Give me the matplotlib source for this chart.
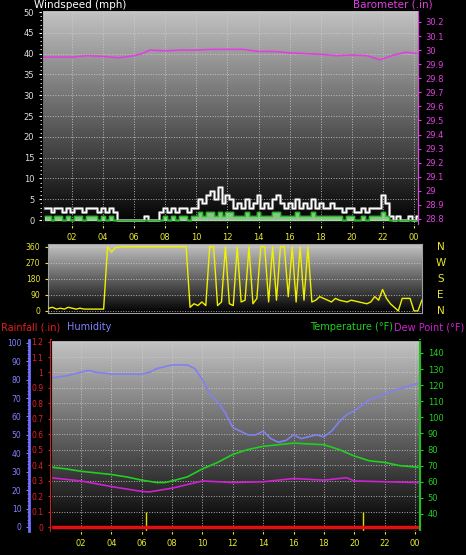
import numpy as np
import matplotlib
matplotlib.use("Agg")
import matplotlib.pyplot as plt
from matplotlib.colors import LinearSegmentedColormap

# ---------------- data ----------------
baro_t = [0.1, 1, 2, 3, 4, 5, 6, 6.5, 7, 8, 9, 10, 11, 12, 13, 14, 15, 16, 17, 18, 19, 20, 21, 21.8, 22.7, 23.5, 24.2]
baro_v = [29.95, 29.95, 29.95, 29.96, 29.955, 29.945, 29.96, 29.975, 30.0, 29.995, 30.0, 30.0, 30.005, 30.005,
          30.005, 29.99, 29.99, 29.98, 29.975, 29.97, 29.96, 29.965, 29.96, 29.93, 29.965, 29.985, 29.975]

wind_t = [0.25 * i for i in range(1, 98)]
gust = [3,3,2,3,3,2,3,2,3,3,2,3,3,3,2,3,2,3,2,0,
        0,0,0,0,0,0,1,0,0,0,
        2,3,2,3,2,3,3,2,3,3,
        5,4,6,7,5,8,4,6,
        5,3,4,3,5,3,4,6,
        3,4,3,5,6,4,3,4,
        3,5,3,4,3,5,3,4,
        3,3,4,3,3,2,3,3,
        2,2,3,2,3,3,3,6,
        4,1,0,1,0,0,1,0,1]
avg = [1,1,0,1,1,0,1,0,1,1,0,1,1,1,0,1,0,1,0,0,
       0,0,0,0,0,0,0,0,0,0,
       0,1,0,1,0,1,1,0,1,1,
       2,1,2,2,1,2,1,2,
       2,1,1,1,2,1,1,2,
       1,1,1,2,2,1,1,1,
       1,2,1,1,1,2,1,1,
       1,1,1,1,1,0,1,1,
       0,0,1,0,1,1,1,2,
       1,0,0,0,0,0,0,0,0]
direction = [10,15,20,10,15,10,20,15,10,15,10,10,10,10,10,10,
             360,330,355,358] + [360] * 17 + \
            [20,40,30,50,30,
             360,360,30,50,360,40,30,360,50,60,360,40,70,360,360,50,360,60,360,360,80,360,50,360,60,360,
             50,60,80,70,60,50,70,60,55,50,60,55,50,45,40,50,
             80,60,120,70,40,
             20,0,70,70,70,0,0,60]

hum_t = [0.1,1,2,2.5,3,4,5,6,6.5,7,8,9,9.5,10,10.5,11,11.5,12,12.5,13,13.5,14,14.5,15,15.5,16,16.5,17,17.5,18,
         18.5,19,19.5,20,20.5,21,22,22.5,23,24.2]
hum_v = [81,82,84,85,84,83,83,83,84,86,88,88,86,80,72,68,62,54,52,50,50,52,48,46,47,50,48,49,50,49,
         52,57,61,63,66,69,72,74,75,78]
temp_t = [0.1,1,2,3,4,5,6,7,7.5,8,9,10,11,12,13,14,15,16,17,18,19,20,21,22,23,24.2]
temp_v = [69,68,66.5,65.5,64.5,63,61,59.5,59.5,60.5,63,68,72,77,80,82,83,84,83.5,83,80,76,73,72,70,69]
dew_t = [0.1,2,4,6,6.5,8,10,12,14,16,18,19.5,20,22,24.2]
dew_v = [62.4,60.5,57,54,53.7,56,60.5,59.5,60,62,61,62.5,60.5,60,59.5]
rain_t = [0.1, 24.2]
rain_v = [0.0, 0.0]
rate_t = [6.3, 20.6]
rate_v = [0.1, 0.1]

hour_ticks = list(range(2, 25, 2))
hour_labels = ["02","04","06","08","10","12","14","16","18","20","22","00"]

# ---------------- styling ----------------
BG = "black"
YEL = "#e8e830"
grad = LinearSegmentedColormap.from_list("g", ["#000000", "#c4c4c4"])

fig = plt.figure(figsize=(4.66, 5.55), dpi=100, facecolor=BG)

def style(ax):
    ax.set_facecolor("black")
    ax.imshow(np.linspace(0, 1, 256).reshape(-1, 1)[::-1], cmap=grad, extent=[0, 1, 0, 1],
              transform=ax.transAxes, aspect="auto", zorder=0)
    for s in ax.spines.values():
        s.set_color("#a0a0a0")
    ax.grid(True, color="#d0d0d0", linestyle=":", linewidth=0.7, alpha=0.8)
    ax.tick_params(labelsize=6)

# ---- top: wind + barometer ----
ax1 = fig.add_axes([0.0901, 0.5946, 0.8069, 0.3874])
style(ax1)
ax1.set_xlim(0.07, 24.26)
ax1.set_ylim(-1.2, 50.5)
ax1.set_yticks(range(0, 51, 5))
ax1.set_yticks(range(0, 51, 1), minor=True)
ax1.set_xticks(hour_ticks)
ax1.set_xticklabels(hour_labels)
ax1.tick_params(axis="y", colors="white", labelcolor="#e0e0e0", length=2)
ax1.tick_params(axis="y", which="minor", colors="white", length=1.5)
ax1.tick_params(axis="x", colors=YEL, labelcolor=YEL, length=2)
ax1.fill_between(wind_t, avg, step="mid", color="#b0f0b0", alpha=0.8, zorder=2)
ax1.step(wind_t, gust, where="mid", color="#808080", lw=2.2, zorder=3)
ax1.step(wind_t, gust, where="mid", color="white", lw=1.0, zorder=4)
ax1.step(wind_t, avg, where="mid", color="#20c020", lw=1.0, zorder=5)
ax1.text(-0.02, 1.0, "Windspeed (mph)", transform=ax1.transAxes, color="white", fontsize=7.5,
         ha="left", va="bottom")
ax1b = ax1.twinx()
ax1b.set_ylim(28.757, 30.285)
ax1b.set_yticks(np.round(np.arange(28.8, 30.21, 0.1), 1))
ax1b.set_yticklabels([f"{v:g}" for v in np.round(np.arange(28.8, 30.21, 0.1), 1)])
ax1b.tick_params(axis="y", colors="#e040e0", labelcolor="#e040e0", labelsize=6, length=2)
ax1b.spines["right"].set_color("#e040e0")
ax1b.plot(baro_t, baro_v, color="#e040e0", lw=1.2)
ax1b.text(1.04, 1.0, "Barometer (.in)", transform=ax1b.transAxes, color="#e040e0", fontsize=7.5,
          ha="right", va="bottom")

# ---- wind direction ----
ax2 = fig.add_axes([0.103, 0.436, 0.8026, 0.1243])
style(ax2)
ax2.grid(False)
ax2.grid(True, axis="y", color="#d0d0d0", linestyle=":", linewidth=0.7)
ax2.set_xlim(0.46, 24.26)
ax2.set_ylim(-12, 375)
ax2.set_yticks([0, 90, 180, 270, 360])
ax2.set_xticks([])
ax2.tick_params(axis="y", colors=YEL, labelcolor=YEL, length=2, labelsize=5.5)
ax2.plot(wind_t, direction, color="#f0f000", lw=1.0, zorder=3)
for lbl, v in zip(["N", "W", "S", "E", "N"], [360, 270, 180, 90, 0]):
    ax2.text(1.05, (v + 12) / 387, lbl, transform=ax2.transAxes, color=YEL, fontsize=7.5,
             ha="center", va="center")

# ---- bottom: rain / humidity / temperature ----
ax3 = fig.add_axes([0.1094, 0.0432, 0.7918, 0.3441])
style(ax3)
ax3.set_xlim(0.02, 24.33)
ax3.set_ylim(-0.026, 1.21)
ax3.set_yticks(np.round(np.arange(0, 1.21, 0.1), 1))
ax3.set_yticklabels([f"{v:g}" for v in np.round(np.arange(0, 1.21, 0.1), 1)])
ax3.set_xticks(hour_ticks)
ax3.set_xticklabels(hour_labels)
ax3.tick_params(axis="y", colors="#e02020", labelcolor="#e02020", length=2, labelsize=5.5)
ax3.tick_params(axis="x", colors=YEL, labelcolor=YEL, length=2)
ax3.spines["left"].set_color("#e02020")
ax3.spines["left"].set_linewidth(1.5)
ax3.plot(rain_t, rain_v, color="#e01010", lw=2.5, zorder=6)
ax3.vlines(rate_t, -0.026, rate_v, color="#e0e000", lw=1.0, zorder=5)

axh = ax3.twinx()
axh.spines["left"].set_position(("axes", -0.0596))
axh.spines["left"].set_visible(True)
axh.spines["left"].set_color("#7070ff")
axh.spines["left"].set_linewidth(2)
axh.spines["right"].set_visible(False)
axh.yaxis.set_ticks_position("left")
axh.yaxis.set_label_position("left")
axh.set_ylim(-2.2, 101.5)
axh.set_yticks(range(0, 101, 10))
axh.set_yticks(range(0, 101, 2), minor=True)
axh.tick_params(axis="y", colors="#8080ff", labelcolor="#8080ff", length=2, labelsize=5.5)
axh.tick_params(axis="y", which="minor", colors="#8080ff", length=1.5)
axh.plot(hum_t, hum_v, color="#8080f0", lw=1.2)

axt = ax3.twinx()
axt.spines["right"].set_color("#20c020")
axt.spines["right"].set_linewidth(1.5)
axt.set_ylim(29.4, 148)
axt.set_yticks(range(40, 141, 10))
axt.tick_params(axis="y", colors="#20d020", labelcolor="#20d020", length=2, labelsize=6)
axt.plot(temp_t, temp_v, color="#20d020", lw=1.2)
axt.plot(dew_t, dew_v, color="#d020d0", lw=1.2)

fig.text(0.002, 0.41, "Rainfall (.in)", color="#e02020", fontsize=7, va="center")
fig.text(0.143, 0.41, "Humidity", color="#8080ff", fontsize=7, va="center")
fig.text(0.843, 0.41, "Temperature (°F)", color="#20d020", fontsize=7, va="center", ha="right")
fig.text(0.997, 0.41, "Dew Point (°F)", color="#d020d0", fontsize=7, va="center", ha="right")

fig.savefig("out.png", dpi=100, facecolor=BG)
